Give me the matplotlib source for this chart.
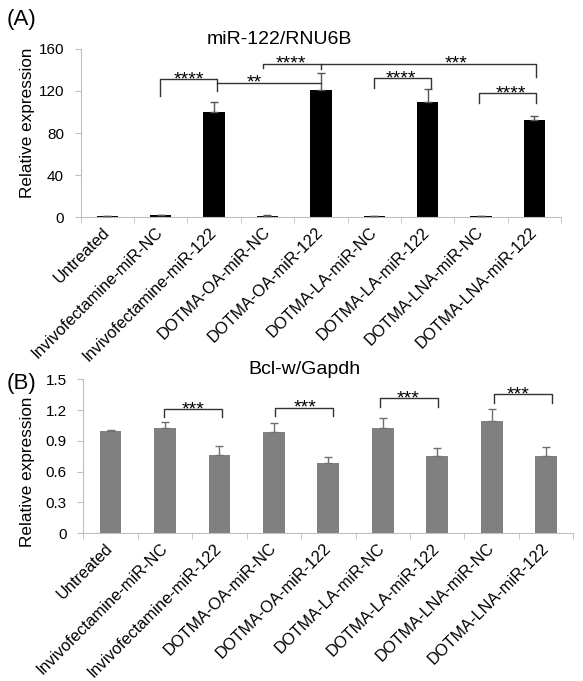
import matplotlib
matplotlib.use('Agg')
import matplotlib.pyplot as plt
import numpy as np

plt.rcParams['font.family'] = ['Liberation Sans', 'DejaVu Sans']

labels = ['Untreated', 'Invivofectamine-miR-NC', 'Invivofectamine-miR-122',
          'DOTMA-OA-miR-NC', 'DOTMA-OA-miR-122', 'DOTMA-LA-miR-NC',
          'DOTMA-LA-miR-122', 'DOTMA-LNA-miR-NC', 'DOTMA-LNA-miR-122']

# panel A: miR-122/RNU6B
mir_mean = [1.0, 1.8, 100.0, 1.4, 120.5, 0.9, 109.5, 0.9, 92.0]
mir_err = [0.1, 0.3, 9.3, 0.6, 17.0, 0.1, 12.0, 0.1, 4.5]

# panel B: Bcl-w/Gapdh
bcl_mean = [1.0, 1.03, 0.76, 0.985, 0.685, 1.03, 0.755, 1.095, 0.755]
bcl_err = [0.003, 0.058, 0.093, 0.09, 0.056, 0.094, 0.073, 0.12, 0.083]

# significance brackets: x1, x2, y, left leg end, right leg end, label, label x
mir_sig = [(0.985, 2.05, 131.0, 115.0, 120.0, '****', 1.53),
           (2.05, 4.0, 128.0, 128.0, 128.0, '**', 2.76),
           (2.92, 4.0, 145.6, 141.8, 140.6, '****', 3.43),
           (4.0, 8.04, 145.6, 145.6, 133.0, '***', 6.54),
           (4.99, 6.06, 132.0, 123.0, 123.0, '****', 5.5),
           (6.96, 8.04, 117.8, 109.0, 109.0, '****', 7.56)]
bcl_sig = [(0.98, 2.04, 1.208, 1.13, 1.13, '***', 1.51),
           (3.02, 4.08, 1.224, 1.142, 1.142, '***', 3.58),
           (4.95, 6.01, 1.315, 1.227, 1.227, '***', 5.46),
           (7.05, 8.10, 1.354, 1.266, 1.266, '***', 7.48)]

W, H = 583, 681
fig = plt.figure(figsize=(W / 100, H / 100), dpi=100)
axA = fig.add_axes([80.7 / W, 1 - 217.3 / H, 480.3 / W, 168.4 / H])
axB = fig.add_axes([83.3 / W, 1 - 533.3 / H, 490.0 / W, 154.0 / H])

x = np.arange(len(labels))


def style(ax, mean, err, color, ecolor, ylim, yticks, sig):
    ax.bar(x, mean, width=0.4, color=color, zorder=2)
    ax.errorbar(x, mean, yerr=[np.zeros(len(err)), err], fmt='none',
                ecolor=ecolor, elinewidth=1, capsize=3, capthick=1, zorder=3)
    ax.set_xlim(-0.5, len(labels) - 0.5)
    ax.set_ylim(*ylim)
    ax.set_yticks(yticks)
    ax.set_xticks(x)
    ax.set_xticklabels(labels, rotation=45, ha='right', va='center',
                       rotation_mode='anchor', fontsize=11.8)
    ax.set_xticks(np.arange(-0.5, len(labels)), minor=True)
    ax.tick_params(axis='x', which='major', length=0, pad=9)
    ax.tick_params(axis='x', which='minor', length=4, color='#BFBFBF')
    ax.tick_params(axis='y', length=4, color='#BFBFBF', labelsize=11, pad=8)
    for s in ['top', 'right']:
        ax.spines[s].set_visible(False)
    for s in ['left', 'bottom']:
        ax.spines[s].set_color('#BFBFBF')
    ax.set_ylabel('Relative expression', fontsize=12.3)
    for x1, x2, y, l1, l2, lab, tx in sig:
        ax.plot([x1, x1, x2, x2], [l1, y, y, l2], color='#333333', lw=1,
                zorder=4, clip_on=False)
        ax.annotate(lab, (tx, y), xytext=(0, -3.5), textcoords='offset points',
                    ha='center', va='baseline', fontsize=14)


style(axA, mir_mean, mir_err, 'black', '#555555', (0, 160),
      [0, 40, 80, 120, 160], mir_sig)
style(axB, bcl_mean, bcl_err, '#808080', '#707070', (0, 1.5),
      [0, 0.3, 0.6, 0.9, 1.2, 1.5], bcl_sig)
axB.set_yticklabels(['0', '0.3', '0.6', '0.9', '1.2', '1.5'])
axA.yaxis.set_label_coords(-0.095, 0.56)
axB.yaxis.set_label_coords(-0.099, 0.40)

fig.text(279.5 / W, 1 - 39 / H, 'miR-122/RNU6B', ha='center', va='center', fontsize=14)
fig.text(304 / W, 1 - 369 / H, 'Bcl-w/Gapdh', ha='center', va='center', fontsize=14)
fig.text(7 / W, 1 - 20 / H, '(A)', ha='left', va='center', fontsize=16)
fig.text(7 / W, 1 - 383 / H, '(B)', ha='left', va='center', fontsize=16)

fig.savefig('out.png', dpi=100)
